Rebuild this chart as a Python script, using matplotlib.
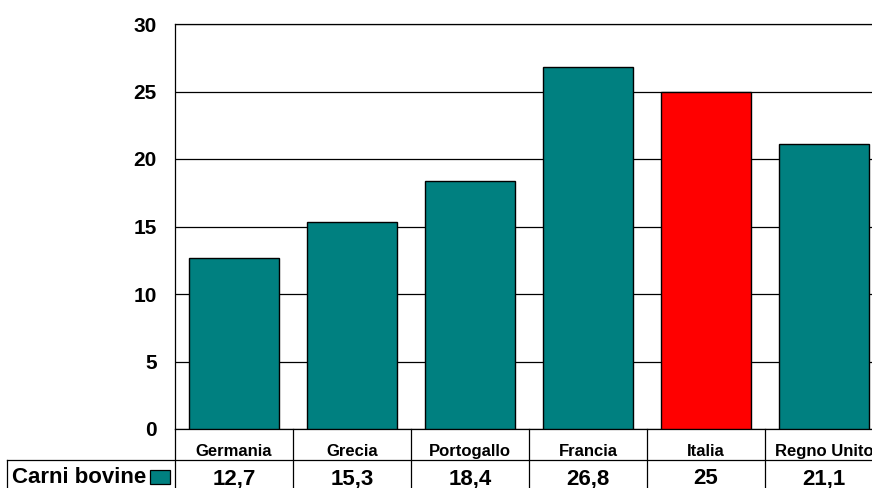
import matplotlib
matplotlib.use("Agg")
import matplotlib.pyplot as plt
import matplotlib.transforms as mtransforms

# data
paesi = ["Germania", "Grecia", "Portogallo", "Francia", "Italia", "Regno Unito"]
carni_bovine = [12.7, 15.3, 18.4, 26.8, 25, 21.1]
etichette = ["12,7", "15,3", "18,4", "26,8", "25", "21,1"]
serie = "Carni bovine"

TEAL = "#008080"
RED = "#FF0000"
colori = [RED if p == "Italia" else TEAL for p in paesi]

plt.rcParams['font.family'] = ['Liberation Sans', 'DejaVu Sans']
plt.rcParams['font.weight'] = 'bold'

W, H = 872, 488
fig = plt.figure(figsize=(W / 100, H / 100), dpi=100)

def fy(py):
    return 1 - py / H

# axes: left 175 px, top 24 px, bottom 429 px, right beyond figure (883 px)
ax = fig.add_axes([175 / W, fy(429), 708 / W, (429 - 24) / H])

x = range(len(paesi))
ax.bar(x, carni_bovine, width=0.755, color=colori, edgecolor="black", lw=1, zorder=3)

ax.set_xlim(-0.5, len(paesi) - 0.5)
ax.set_ylim(0, 30)
ax.set_yticks(range(0, 31, 5))
ax.yaxis.grid(True, color="black", lw=0.9, zorder=0)
ax.tick_params(axis="y", length=0, pad=13, labelsize=15)
ax.tick_params(axis="x", length=0, labelbottom=False)
for lab in ax.get_yticklabels():
    lab.set_fontweight("bold")
ax.spines["right"].set_visible(False)
for s in ["left", "top", "bottom"]:
    ax.spines[s].set_color("black")
    ax.spines[s].set_linewidth(0.9)

# data table below the chart
tr = mtransforms.blended_transform_factory(ax.transData, fig.transFigure)
for i in range(len(paesi) + 1):
    ax.plot([i - 0.5, i - 0.5], [fy(429), fy(492)], color="black", lw=0.9,
            transform=tr, clip_on=False)
fig.add_artist(plt.Line2D([7 / W, 1], [fy(460), fy(460)], color="black", lw=0.9))
fig.add_artist(plt.Line2D([7 / W, 7 / W], [fy(460), fy(492)], color="black", lw=0.9))

for i, (p, v) in enumerate(zip(paesi, etichette)):
    ax.text(i, fy(456), p, transform=tr, ha="center", va="baseline",
            fontsize=12, fontweight="bold", clip_on=False)
    ax.text(i, fy(484), v, transform=tr, ha="center", va="baseline",
            fontsize=16, fontweight="bold", clip_on=False)

fig.text(12 / W, fy(483), serie, ha="left", va="baseline", fontsize=16, fontweight="bold")
fig.add_artist(plt.Rectangle((150 / W, fy(484)), 20 / W, 14 / H, facecolor=TEAL,
                             edgecolor="black", lw=0.9, transform=fig.transFigure))

fig.savefig("out.png", dpi=100)
